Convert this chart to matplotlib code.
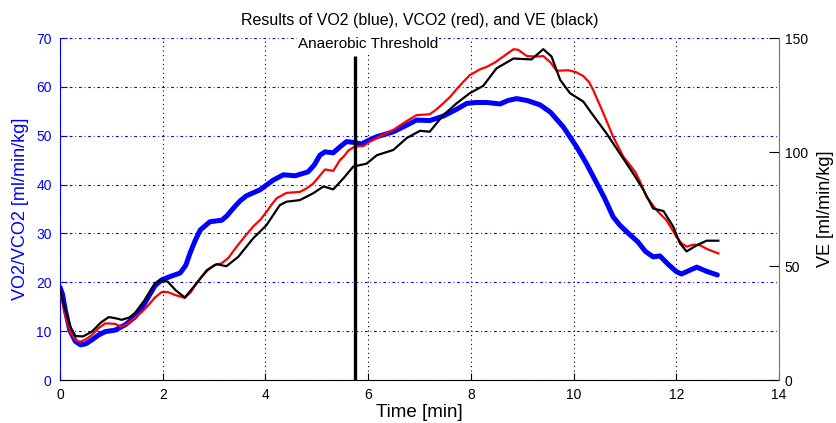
import matplotlib
matplotlib.use('Agg')
import matplotlib.pyplot as plt

plt.rcParams['font.family'] = ['Liberation Sans', 'DejaVu Sans']

# --- VO2 (blue), left axis ---
vo2_time = [0.0, 0.05, 0.1, 0.19, 0.3, 0.4, 0.5, 0.62, 0.75, 0.88, 1.07, 1.27, 1.46,
            1.6, 1.72, 1.85, 1.98, 2.15, 2.34, 2.45, 2.53, 2.63, 2.73, 2.92, 3.15,
            3.25, 3.37, 3.5, 3.63, 3.76, 3.89, 4.02, 4.15, 4.35, 4.58, 4.83, 4.95,
            5.06, 5.16, 5.32, 5.45, 5.58, 5.74, 5.87, 6.0, 6.17, 6.49, 6.72, 6.94,
            7.2, 7.46, 7.72, 7.92, 8.1, 8.31, 8.57, 8.72, 8.89, 9.1, 9.35, 9.55,
            9.8, 10.06, 10.25, 10.45, 10.6, 10.77, 10.9, 11.1, 11.25, 11.4, 11.55,
            11.68, 11.85, 12.0, 12.1, 12.25, 12.4, 12.6, 12.8]
vo2 = [19.0, 17.5, 14.5, 10.2, 7.9, 7.2, 7.4, 8.2, 9.2, 9.9, 10.2, 11.3, 12.9,
       14.8, 17.0, 19.3, 20.5, 21.2, 21.9, 23.5, 25.9, 28.5, 30.7, 32.4, 32.7,
       33.6, 35.1, 36.6, 37.7, 38.3, 38.9, 39.9, 40.9, 42.0, 41.8, 42.6, 44.0,
       46.0, 46.7, 46.5, 47.7, 48.8, 48.6, 48.3, 49.0, 49.8, 50.8, 52.0, 53.2,
       53.1, 54.0, 55.4, 56.6, 56.8, 56.8, 56.5, 57.2, 57.6, 57.2, 56.3, 54.8,
       51.8, 47.7, 44.3, 40.3, 37.3, 33.4, 31.7, 29.7, 28.3, 26.3, 25.2,
       25.4, 23.6, 22.2, 21.7, 22.4, 23.1, 22.2, 21.5]

# --- VCO2 (red), left axis ---
vco2_time = [0.0, 0.1, 0.19, 0.3, 0.39, 0.5, 0.62, 0.75, 0.88, 1.07, 1.2, 1.33, 1.46,
             1.6, 1.72, 1.85, 1.98, 2.1, 2.24, 2.43, 2.55, 2.63, 2.75, 2.88, 3.0,
             3.15, 3.28, 3.44, 3.6, 3.76, 3.9, 4.02, 4.12, 4.22, 4.41, 4.67, 4.8,
             4.93, 5.05, 5.16, 5.32, 5.45, 5.52, 5.62, 5.74, 5.91, 6.05, 6.23, 6.49,
             6.72, 6.94, 7.2, 7.33, 7.46, 7.6, 7.72, 7.85, 7.98, 8.18, 8.31, 8.47,
             8.63, 8.83, 8.92, 9.09, 9.28, 9.41, 9.55, 9.67, 9.9, 10.05, 10.19,
             10.3, 10.38, 10.48, 10.58, 10.77, 10.97, 11.2, 11.3, 11.42, 11.62,
             11.81, 11.92, 12.0, 12.1, 12.2, 12.33, 12.46, 12.6, 12.82]
vco2 = [18.5, 13.5, 10.0, 8.2, 7.8, 8.3, 9.2, 10.6, 11.6, 11.5, 10.9, 11.6, 12.7,
        14.0, 15.3, 16.9, 18.0, 18.0, 17.4, 16.8, 18.0, 19.4, 21.0, 22.5, 23.5,
        23.9, 25.0, 27.3, 29.4, 31.4, 32.8, 34.4, 35.9, 37.2, 38.3, 38.5, 39.2,
        40.2, 41.7, 43.1, 42.8, 45.0, 45.7, 47.0, 47.8, 47.9, 48.9, 49.9, 51.2,
        52.8, 54.2, 54.4, 55.4, 56.6, 58.0, 59.5, 61.0, 62.4, 63.6, 64.1, 65.0,
        66.2, 67.7, 67.6, 66.3, 66.2, 66.3, 65.0, 63.3, 63.4, 63.0, 62.2,
        61.0, 59.4, 57.0, 54.6, 49.8, 45.7, 42.6, 40.5, 37.5, 34.7,
        32.7, 30.8, 29.3, 28.0, 27.3, 27.7, 27.6, 26.8, 25.9]

# --- VE (black), right axis ---
ve_time = [0.0, 0.1, 0.2, 0.3, 0.45, 0.62, 0.8, 0.95, 1.1, 1.2, 1.35, 1.46, 1.65,
           1.85, 1.95, 2.1, 2.25, 2.43, 2.63, 2.86, 3.05, 3.24, 3.47, 3.76, 4.02,
           4.28, 4.41, 4.67, 4.93, 5.13, 5.32, 5.52, 5.71, 5.97, 6.17, 6.49, 6.75,
           7.01, 7.2, 7.46, 7.72, 7.98, 8.24, 8.5, 8.83, 9.18, 9.41, 9.57, 9.74,
           9.93, 10.19, 10.38, 10.64, 10.9, 11.16, 11.36, 11.55, 11.75, 11.94,
           12.07, 12.2, 12.4, 12.59, 12.82]
ve = [39.6, 31.0, 23.5, 19.3, 19.1, 21.2, 25.3, 27.6, 27.0, 26.4, 27.4, 29.4, 35.1,
      42.4, 43.9, 43.1, 39.4, 36.2, 41.6, 48.2, 50.8, 49.9, 54.0, 62.1, 67.9,
      76.7, 78.2, 78.9, 81.9, 84.9, 83.6, 88.5, 93.6, 94.9, 98.6, 100.9, 106.1,
      109.3, 108.9, 116.1, 121.3, 125.8, 129.0, 136.7, 141.0, 140.6, 145.1, 141.9, 131.6,
      125.8, 122.1, 116.1, 108.2, 99.4, 90.6, 83.4, 75.2, 74.1, 67.3,
      60.0, 56.4, 59.1, 61.1, 61.1]

threshold_time = 5.75
threshold_top = 66.4

fig = plt.figure(figsize=(8.37, 4.23), dpi=100)
ax = fig.add_axes([60 / 837, 43 / 423, 719 / 837, 342 / 423])

ax.plot(vo2_time, vo2, color='blue', lw=3.6, solid_capstyle='round',
        solid_joinstyle='round', zorder=3)
ax.plot(vco2_time, vco2, color='red', lw=1.6, solid_joinstyle='round', zorder=4)
ax.vlines(threshold_time, 0, threshold_top, color='black', lw=2.4, zorder=5)
ax.text(6.0, 68.0, 'Anaerobic Threshold', ha='center', va='baseline', fontsize=11,
        bbox=dict(facecolor='white', edgecolor='none', pad=0.5), zorder=6)

ax.set_xlim(0, 14)
ax.set_ylim(0, 70)
ax.set_xticks(range(0, 15, 2))
ax.set_yticks(range(0, 71, 10))
ax.xaxis.grid(True, color='black', linestyle=(0, (1, 3)), lw=0.8)
ax.yaxis.grid(True, color='blue', linestyle=(0, (2.5, 2.5, 0.8, 2.5)), lw=0.8)
ax.set_axisbelow(True)

ax.spines['top'].set_visible(False)
ax.spines['right'].set_visible(False)
ax.spines['left'].set_color('blue')
ax.tick_params(axis='both', direction='in', length=5, labelsize=10, pad=6)
ax.tick_params(axis='y', colors='blue')
ax.set_xlabel('Time [min]', fontsize=13.5, labelpad=1)
ax.set_ylabel('VO2/VCO2 [ml/min/kg]', color='blue', fontsize=13, labelpad=5)
ax.set_title('Results of VO2 (blue), VCO2 (red), and VE (black)', fontsize=11.5, pad=9)

ax2 = ax.twinx()
ax2.plot(ve_time, ve, color='black', lw=1.6, solid_joinstyle='round', zorder=6)
ax2.set_ylim(0, 150)
ax2.set_yticks([0, 50, 100, 150])
for side in ['top', 'left', 'bottom']:
    ax2.spines[side].set_visible(False)
ax2.spines['right'].set_color('0.45')
ax2.tick_params(axis='y', direction='in', length=7, labelsize=10, pad=4)
ax2.set_ylabel('VE [ml/min/kg]', fontsize=13, labelpad=7)

fig.savefig('out.png', dpi=100)
